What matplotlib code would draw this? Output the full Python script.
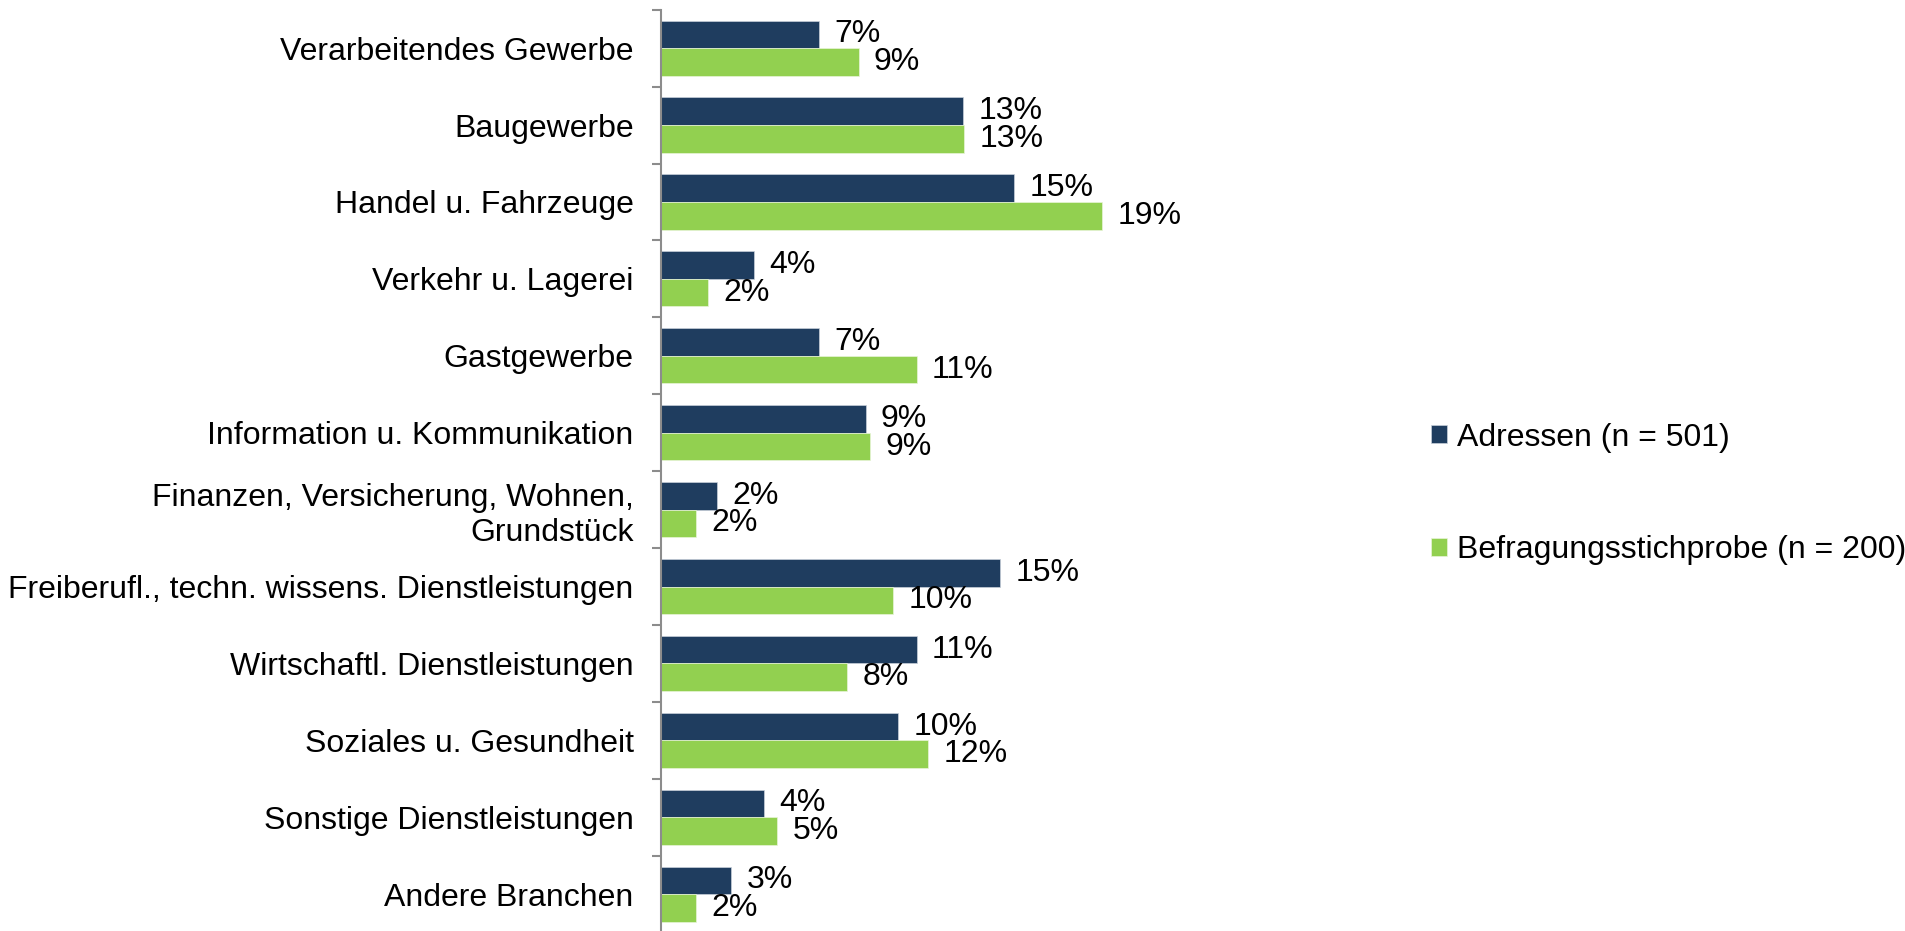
import matplotlib
matplotlib.use("Agg")
import matplotlib.pyplot as plt
import numpy as np

# Branchen (top to bottom)
categories = [
    "Verarbeitendes Gewerbe",
    "Baugewerbe",
    "Handel u. Fahrzeuge",
    "Verkehr u. Lagerei",
    "Gastgewerbe",
    "Information u. Kommunikation",
    "Finanzen, Versicherung, Wohnen,\nGrundstück",
    "Freiberufl., techn. wissens. Dienstleistungen",
    "Wirtschaftl. Dienstleistungen",
    "Soziales u. Gesundheit",
    "Sonstige Dienstleistungen",
    "Andere Branchen",
]
adressen = [6.8, 13.0, 15.2, 4.0, 6.8, 8.8, 2.4, 14.6, 11.0, 10.2, 4.4, 3.0]
befragung = [8.5, 13.05, 19.0, 2.0, 11.0, 9.0, 1.5, 10.0, 8.0, 11.5, 5.0, 1.5]
series_names = ["Adressen (n = 501)", "Befragungsstichprobe (n = 200)"]

navy = "#1F3D5F"
green = "#92D050"

plt.rcParams['font.family'] = ['Liberation Sans', 'DejaVu Sans']
plt.rcParams['font.size'] = 23

fig = plt.figure(figsize=(19.06, 9.31), dpi=100)
# plot area: axis line at x=661, 23.2 px per percent
ax = fig.add_axes([661.5 / 1906, 1 - 932.6 / 931, 464 / 1906, 922.9 / 931])

n = len(categories)
y = np.arange(n)
h = 0.359

b1 = ax.barh(y - h / 2, adressen, height=h, color=navy, edgecolor="#C8D0DA", linewidth=0.5, label=series_names[0])
b2 = ax.barh(y + h / 2, befragung, height=h, color=green, edgecolor="#E8F4D8", linewidth=0.5, label=series_names[1])

def pct(v):
    return f"{int(v + 0.5)}%"

ax.bar_label(b1, labels=[pct(v) for v in adressen], padding=11, fontsize=23)
ax.bar_label(b2, labels=[pct(v) for v in befragung], padding=11, fontsize=23)

ax.set_ylim(n - 0.5, -0.5)
ax.set_xlim(0, 20)

# ticks at category boundaries, labels centred
ax.set_yticks(np.arange(n + 1) - 0.5)
ax.set_yticklabels([])
ax.tick_params(axis="y", which="major", length=6.5, width=1.5, color="#8C8C8C", direction="out")
ax.set_yticks(y, minor=True)
ax.set_yticklabels(categories, minor=True)
ax.tick_params(axis="y", which="minor", length=0, pad=20)

ax.set_xticks([])
for s in ["top", "right", "bottom"]:
    ax.spines[s].set_visible(False)
ax.spines["left"].set_color("#8C8C8C")
ax.spines["left"].set_linewidth(1.5)

fig.legend(handles=[b1, b2], loc="center left", bbox_to_anchor=(1431 / 1906, 1 - 494 / 931),
           frameon=False, fontsize=23, handlelength=0.5, handleheight=0.5,
           handletextpad=0.3, labelspacing=2.59, borderaxespad=0, borderpad=0)

fig.savefig("out.png", dpi=100)
